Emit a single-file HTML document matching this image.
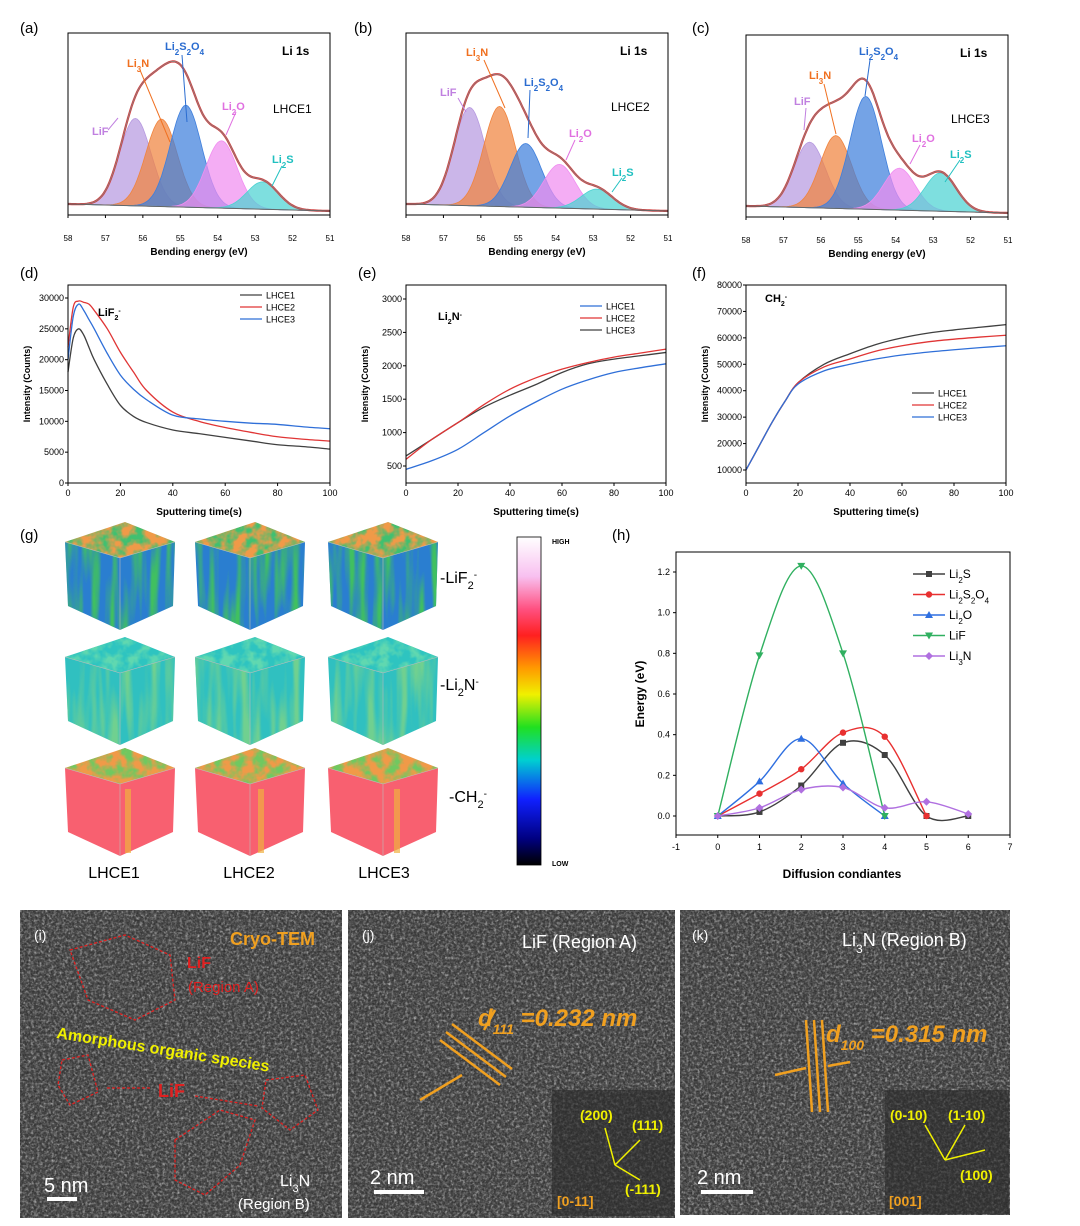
<!DOCTYPE html>
<html><head><meta charset="utf-8">
<style>
body{margin:0;background:#fff;}
svg{display:block;font-family:"Liberation Sans",sans-serif;}
</style></head>
<body>
<svg id="fig" width="1080" height="1226" viewBox="0 0 1080 1226" xmlns="http://www.w3.org/2000/svg">
<defs>
<filter id="noise" x="0" y="0" width="100%" height="100%">
<feTurbulence type="fractalNoise" baseFrequency="0.55" numOctaves="2" seed="3"/>
<feColorMatrix type="matrix" values="0 0 0 0 0  0 0 0 0 0  0 0 0 0 0  1.4 0 0 0 -0.3"/>
<feComposite in2="SourceGraphic" operator="in"/>
</filter>
<filter id="mottle" x="0" y="0" width="100%" height="100%">
<feTurbulence type="fractalNoise" baseFrequency="0.09" numOctaves="3" seed="5" result="t"/>
<feColorMatrix in="t" type="matrix" values="0 0 0 0 0  0 0 0 0 0  0 0 0 0 0  -3 0 0 0 1.9" result="m"/>
<feComposite in="SourceGraphic" in2="m" operator="in"/>
</filter>
<filter id="stripes" x="0" y="0" width="100%" height="100%">
<feTurbulence type="fractalNoise" baseFrequency="0.12 0.01" numOctaves="2" seed="2" result="t"/>
<feColorMatrix in="t" type="matrix" values="0 0 0 0 0  0 0 0 0 0  0 0 0 0 0  -3 0 0 0 1.8" result="m"/>
<feComposite in="SourceGraphic" in2="m" operator="in"/>
</filter>
<filter id="noise2" x="0" y="0" width="100%" height="100%">
<feTurbulence type="fractalNoise" baseFrequency="0.35" numOctaves="2" seed="8"/>
<feColorMatrix type="matrix" values="0 0 0 0 1  0 0 0 0 1  0 0 0 0 1  1.3 0 0 0 -0.55"/>
<feComposite in2="SourceGraphic" operator="in"/>
</filter>
<linearGradient id="cbar" x1="0" y1="0" x2="0" y2="1">
<stop offset="0" stop-color="#ffffff"/><stop offset="0.12" stop-color="#f8c0f0"/>
<stop offset="0.22" stop-color="#ff5080"/><stop offset="0.3" stop-color="#ff2020"/>
<stop offset="0.4" stop-color="#ff9a00"/><stop offset="0.48" stop-color="#f0f000"/>
<stop offset="0.58" stop-color="#20e020"/><stop offset="0.68" stop-color="#00d0d0"/>
<stop offset="0.8" stop-color="#1020ff"/><stop offset="0.92" stop-color="#000080"/>
<stop offset="1" stop-color="#000000"/>
</linearGradient>
</defs>
<g id="root"></g>
</svg>
<script>
// ---------- DATA ----------
const xpsSpecies = ["LiF","Li3N","Li2S2O4","Li2O","Li2S"];
const xpsCentersA = [56.2,55.5,54.85,53.9,52.8];
const xpsAmpsA = [0.48,0.48,0.56,0.37,0.15];
const xpsCentersB = [56.3,55.5,54.8,53.9,52.9];
const xpsAmpsB = [0.54,0.55,0.35,0.24,0.11];
const xpsCentersC = [56.3,55.6,54.8,53.9,52.8];
const xpsAmpsC = [0.36,0.40,0.62,0.23,0.21];
const xpsTicks = [58,57,56,55,54,53,52,51];

const timeD = [0,2,4,6,8,10,15,20,25,30,40,50,60,70,80,90,100];
const d_LHCE1 = [18000,23500,25000,24000,22000,20000,16000,12600,10800,9800,8600,8000,7400,6800,6200,5900,5500];
const d_LHCE2 = [22000,28500,29500,29300,29000,28000,25000,21200,18000,15000,11500,10000,9000,8200,7500,7100,6800];
const d_LHCE3 = [20000,27000,29000,28000,26500,25000,21000,17500,15200,13500,11000,10400,10000,9700,9500,9100,8800];
const dTicksY = [0,5000,10000,15000,20000,25000,30000];

const timeE = [0,10,20,30,40,50,60,70,80,90,100];
const e_LHCE1 = [650,900,1150,1380,1560,1720,1900,2030,2100,2150,2200];
const e_LHCE2 = [600,900,1150,1420,1650,1820,1950,2050,2130,2190,2250];
const e_LHCE3 = [450,580,750,1000,1250,1460,1650,1790,1900,1970,2030];
const eTicksY = [500,1000,1500,2000,2500,3000];

const timeF = [0,5,10,15,20,30,40,50,60,70,80,90,100];
const f_LHCE1 = [10000,19000,28000,36000,43000,50000,54000,57500,60000,61800,63000,64000,65000];
const f_LHCE2 = [10000,19000,28000,36000,43000,49000,52000,55000,57000,58500,59500,60300,61000];
const f_LHCE3 = [10000,19000,28000,36000,42500,47500,50000,52000,53500,54600,55500,56300,57000];
const fTicksY = [10000,20000,30000,40000,50000,60000,70000,80000];
const timeTicks = [0,20,40,60,80,100];

const hX = [0,1,2,3,4,5,6];
const h_Li2S = [0,0.02,0.15,0.36,0.30,0.00,0.00];
const h_Li2S2O4 = [0,0.11,0.23,0.41,0.39,0.00];
const h_Li2O = [0,0.17,0.38,0.16,0.00];
const h_LiF = [0,0.79,1.23,0.80,0.00];
const h_Li3N = [0,0.04,0.13,0.14,0.04,0.07,0.01];
const hTicksX = [-1,0,1,2,3,4,5,6,7];
const hTicksY = [0,0.2,0.4,0.6,0.8,1.0,1.2];

// ---------- HELPERS ----------
const NS="http://www.w3.org/2000/svg";
const root=document.getElementById('root');
function mk(tag,attrs,parent,txt){const e=document.createElementNS(NS,tag);for(const k in attrs)e.setAttribute(k,attrs[k]);if(txt!==undefined)e.innerHTML=txt;(parent||root).appendChild(e);return e;}
function smooth(pts){let d="M"+pts[0][0]+","+pts[0][1];for(let i=0;i<pts.length-1;i++){const p0=pts[i-1]||pts[i],p1=pts[i],p2=pts[i+1],p3=pts[i+2]||p2;const c1x=p1[0]+(p2[0]-p0[0])/6,c1y=p1[1]+(p2[1]-p0[1])/6,c2x=p2[0]-(p3[0]-p1[0])/6,c2y=p2[1]-(p3[1]-p1[1])/6;d+=` C${c1x},${c1y} ${c2x},${c2y} ${p2[0]},${p2[1]}`;}return d;}
function panelLabel(t,x,y){const e=mk('text',{x:x,y:y,'font-size':15},root,t);}

// ---------- XPS PANELS ----------
const xpsColors=["#b79ae0","#f0843e","#3f7fdc","#f08ef0","#4cd2d2"];
const xpsLabelCol=["#c080e0","#f07020","#2a6cd0","#e070e0","#20c0c0"];
const xpsLabels=["LiF","Li<tspan baseline-shift='sub' font-size='8'>3</tspan>N","Li<tspan baseline-shift='sub' font-size='8'>2</tspan>S<tspan baseline-shift='sub' font-size='8'>2</tspan>O<tspan baseline-shift='sub' font-size='8'>4</tspan>","Li<tspan baseline-shift='sub' font-size='8'>2</tspan>O","Li<tspan baseline-shift='sub' font-size='8'>2</tspan>S"];
function xpsPanel(px,py,centers,amps,name,labelPos){
  const W=262,H=182,g=mk('g',{});
  
  const sx=v=>px+(58-v)/7*W;
  const bl=v=>py+H-11+(58-v)/7*7;
  const sy=(v,a)=>bl(v)-a*H;
  const sigma=0.42,N=140;
  centers.forEach((c,i)=>{
    let pts=[];for(let k=0;k<=N;k++){const v=58-7*k/N;const a=amps[i]*Math.exp(-((v-c)**2)/(2*sigma*sigma));pts.push([sx(v),sy(v,a)]);}
    let d="M"+sx(58)+","+bl(58)+" L"+pts.map(p=>p[0].toFixed(1)+","+p[1].toFixed(1)).join(" L")+" L"+sx(51)+","+bl(51)+"Z";
    const p=mk('path',{d:d,fill:xpsColors[i],'fill-opacity':0.72,stroke:xpsColors[i],'stroke-width':0.8},g);
    
  });
  let env=[];for(let k=0;k<=N;k++){const v=58-7*k/N;let a=0;centers.forEach((c,i)=>a+=amps[i]*Math.exp(-((v-c)**2)/(2*sigma*sigma)));env.push([sx(v),sy(v,a)]);}
  const ep=mk('path',{d:"M"+env.map(p=>p[0].toFixed(1)+","+p[1].toFixed(1)).join(" L"),fill:"none",stroke:"#d04040",'stroke-width':2.2},g);
  
  const dp=mk('path',{d:"M"+env.map(p=>p[0].toFixed(1)+","+p[1].toFixed(1)).join(" L"),fill:"none",stroke:"#888",'stroke-width':0.7},g);
  
  const bp=mk('line',{x1:sx(58),y1:bl(58),x2:sx(51),y2:bl(51),stroke:"#666",'stroke-width':1},g);
  
  const fr=mk('rect',{x:px,y:py,width:W,height:H,fill:'none',stroke:'#000','stroke-width':1},g);
  
  xpsTicks.forEach(t=>{const tl=mk('line',{x1:sx(t),y1:py+H,x2:sx(t),y2:py+H+3,stroke:'#000'},g);
    const tx=mk('text',{x:sx(t),y:py+H+26,'font-size':8,'text-anchor':'middle'},g,t);});
  const xl=mk('text',{x:px+W/2,y:py+H+40,'font-size':10,'font-weight':'bold','text-anchor':'middle'},g,'Bending energy (eV)');
  
  const t1=mk('text',{x:px+W-48,y:py+22,'font-size':12,'font-weight':'bold'},g,'Li 1s');
  const t2=mk('text',{x:px+W-57,y:py+labelPos.sampleY,'font-size':12},g,name);
  labelPos.labels.forEach((L,i)=>{
    const tx=mk('text',{x:L[0],y:L[1],'font-size':11,'font-weight':'bold',fill:xpsLabelCol[i]},g,xpsLabels[i]);
    const ln=mk('line',{x1:L[2],y1:L[3],x2:L[4],y2:L[5],stroke:xpsLabelCol[i],'stroke-width':1},g);
  });
}
panelLabel('(a)',20,33);panelLabel('(b)',354,33);panelLabel('(c)',692,33);
xpsPanel(68,33,xpsCentersA,xpsAmpsA,'LHCE1',{sampleY:80,labels:[[92,135,108,130,118,118],[127,67,140,70,170,142],[165,50,182,55,187,122],[222,110,236,112,226,135],[272,163,282,166,272,186]]});
xpsPanel(406,33,xpsCentersB,xpsAmpsB,'LHCE2',{sampleY:78,labels:[[440,96,458,98,466,112],[466,56,484,60,505,108],[524,86,530,90,528,138],[569,137,575,140,566,160],[612,176,622,178,612,192]]});
xpsPanel(746,35,xpsCentersC,xpsAmpsC,'LHCE3',{sampleY:88,labels:[[794,105,806,108,804,130],[809,79,824,84,836,134],[859,55,870,60,865,96],[912,142,920,145,910,164],[950,158,960,160,945,182]]});

// ---------- LINE PANELS ----------
function linePanel(px,py,W,H,xs,series,colors,yTicks,ymin,ymax,name,title,legend){
  const g=mk('g',{});
  const sx=v=>px+v/100*W, sy=v=>py+H-(v-ymin)/(ymax-ymin)*H;
  series.forEach((s,i)=>{const p=mk('path',{d:smooth(xs.map((x,k)=>[sx(x),sy(s[k])])),fill:'none',stroke:colors[i],'stroke-width':1.3},g);
    });
  const fr=mk('rect',{x:px,y:py,width:W,height:H,fill:'none',stroke:'#000'},g);
  yTicks.forEach(t=>{const l=mk('line',{x1:px-3,y1:sy(t),x2:px,y2:sy(t),stroke:'#000'},g);
    const tx=mk('text',{x:px-4,y:sy(t)+3,'font-size':9,'text-anchor':'end'},g,t);});
  timeTicks.forEach(t=>{const l=mk('line',{x1:sx(t),y1:py+H,x2:sx(t),y2:py+H+3,stroke:'#000'},g);
    const tx=mk('text',{x:sx(t),y:py+H+13,'font-size':9,'text-anchor':'middle'},g,t);});
  const xl=mk('text',{x:px+W/2,y:py+H+32,'font-size':10,'font-weight':'bold','text-anchor':'middle'},g,'Sputtering time(s)');
  const yl=mk('text',{x:0,y:0,'font-size':9,'font-weight':'bold','text-anchor':'middle',transform:`translate(${px-38},${py+H/2}) rotate(-90)`},g,'Intensity (Counts)');
  const tt=mk('text',{x:title[1],y:title[2],'font-size':11,'font-weight':'bold'},g,title[0]);
  ['LHCE1','LHCE2','LHCE3'].forEach((n,i)=>{const y=legend[1]+i*12;
    const l=mk('line',{x1:legend[0],y1:y,x2:legend[0]+22,y2:y,stroke:legend[2][i],'stroke-width':1.3},g);
    const tx=mk('text',{x:legend[0]+26,y:y+3.5,'font-size':9},g,n);});
}
const cK="#404040",cR="#e03535",cB="#2f6fd8";
panelLabel('(d)',20,278);panelLabel('(e)',358,278);panelLabel('(f)',692,278);
linePanel(68,285,262,198,timeD,[d_LHCE1,d_LHCE2,d_LHCE3],[cK,cR,cB],dTicksY,0,30000*198/185,'chart-d',["LiF<tspan baseline-shift='sub' font-size='7'>2</tspan><tspan baseline-shift='super' font-size='7'>-</tspan>",98,316],[240,295,[cK,cR,cB]]);
linePanel(406,285,260,198,timeE,[e_LHCE1,e_LHCE2,e_LHCE3],[cK,cR,cB],eTicksY,500-17/0.0668,500+(466-285-17+(483-466))/0.0668,'chart-e',["Li<tspan baseline-shift='sub' font-size='7'>2</tspan>N<tspan baseline-shift='super' font-size='7'>-</tspan>",438,320],[580,306,[cB,cR,cK]]);
linePanel(746,285,260,198,timeF,[f_LHCE1,f_LHCE2,f_LHCE3],[cK,cR,cB],fTicksY,10000-13*70000/185,10000+185*70000/185,'chart-f',["CH<tspan baseline-shift='sub' font-size='7'>2</tspan><tspan baseline-shift='super' font-size='7'>-</tspan>",765,302],[912,393,[cK,cR,cB]]);

// ---------- (g) CUBES ----------
panelLabel('(g)',20,540);
const topCols=[["#f09a48","#40c070"],["#2ec4c0","#60d8b0"],["#f09a48","#70c860"]];
const sideCols=[["#2a7ed0","#40c060"],["#30c0c0","#70d090"],["#f86070","#f0b040"]];
[522,637,748].forEach((y0,r)=>{
  [120,250,383].forEach((cx,c)=>{
    const g=mk('g',{});
    const T=[cx+5,y0],L=[cx-55,y0+20],R=[cx+55,y0+20],F=[cx,y0+36],h=72;
    const pl=(p)=>p.map(q=>q.join(',')).join(' ');
    const LF=[L,F,[F[0],F[1]+h],[L[0]+3,L[1]+h-8]],RF=[F,R,[R[0]-2,R[1]+h-8],[F[0],F[1]+h]];
    const lf=mk('polygon',{points:pl(LF),fill:sideCols[r][0]},g);
    const rf=mk('polygon',{points:pl(RF),fill:sideCols[r][0]},g);
    if(r!=2){
      const ls=mk('polygon',{points:pl(LF),fill:sideCols[r][1],filter:'url(#stripes)'},g);
      const rs=mk('polygon',{points:pl(RF),fill:sideCols[r][1],filter:'url(#stripes)'},g);
    } else {
      const st=mk('rect',{x:F[0]+5+c*3,y:F[1]+5,width:6,height:h-8,fill:'#f0b040',opacity:0.7},g);
    }
    const tf=mk('polygon',{points:pl([T,R,F,L]),fill:topCols[r][0]},g);
    const tn=mk('polygon',{points:pl([T,R,F,L]),fill:topCols[r][1],filter:'url(#mottle)'},g);
    const ed=mk('polyline',{points:pl([[F[0],F[1]+h],F,L]),fill:'none',stroke:'#bbb','stroke-width':0.6},g);
    const ed2=mk('line',{x1:F[0],y1:F[1],x2:R[0],y2:R[1],stroke:'#bbb','stroke-width':0.6},g);
  });
});
[["-LiF<tspan baseline-shift='sub' font-size='11'>2</tspan><tspan baseline-shift='super' font-size='10'>-</tspan>",583],["-Li<tspan baseline-shift='sub' font-size='11'>2</tspan>N<tspan baseline-shift='super' font-size='10'>-</tspan>",690],["-CH<tspan baseline-shift='sub' font-size='11'>2</tspan><tspan baseline-shift='super' font-size='10'>-</tspan>",802]].forEach(a=>{
  const t=mk('text',{x:a[1]==802?449:440,y:a[1],'font-size':16},root,a[0]);});
['LHCE1','LHCE2','LHCE3'].forEach((n,i)=>{const t=mk('text',{x:[114,249,384][i],y:878,'font-size':16,'text-anchor':'middle'},root,n);});
const cb=mk('rect',{x:517,y:537,width:24,height:328,fill:'url(#cbar)',stroke:'#000','stroke-width':0.8});
const hi=mk('text',{x:552,y:544,'font-size':7,'font-weight':'bold'},root,'HIGH');
const lo=mk('text',{x:552,y:866,'font-size':7,'font-weight':'bold'},root,'LOW');

// ---------- (h) ----------
panelLabel('(h)',612,540);
(function(){
  const px=676,py=552,W=334,H=283;
  const sx=v=>px+(v+1)/8*W, sy=v=>816-v/1.2*244;
  const g=mk('g',{});
  const fr=mk('rect',{x:px,y:py,width:W,height:H,fill:'none',stroke:'#000'},g);
  const S=[["Li<tspan baseline-shift='sub' font-size='8'>2</tspan>S",h_Li2S,"#404040","sq"],["Li<tspan baseline-shift='sub' font-size='8'>2</tspan>S<tspan baseline-shift='sub' font-size='8'>2</tspan>O<tspan baseline-shift='sub' font-size='8'>4</tspan>",h_Li2S2O4,"#e83030","ci"],["Li<tspan baseline-shift='sub' font-size='8'>2</tspan>O",h_Li2O,"#2f6fe0","tu"],["LiF",h_LiF,"#30b060","td"],["Li<tspan baseline-shift='sub' font-size='8'>3</tspan>N",h_Li3N,"#b070e0","di"]];
  function marker(t,x,y,c,par){let e;
    if(t=="sq")e=mk('rect',{x:x-3,y:y-3,width:6,height:6,fill:c},par);
    else if(t=="ci")e=mk('circle',{cx:x,cy:y,r:3.2,fill:c},par);
    else if(t=="tu")e=mk('polygon',{points:`${x},${y-4} ${x-4},${y+3} ${x+4},${y+3}`,fill:c},par);
    else if(t=="td")e=mk('polygon',{points:`${x},${y+4} ${x-4},${y-3} ${x+4},${y-3}`,fill:c},par);
    else e=mk('polygon',{points:`${x},${y-4} ${x-4},${y} ${x},${y+4} ${x+4},${y}`,fill:c},par);
    }
  S.forEach((s,i)=>{const pts=s[1].map((v,k)=>[sx(hX[k]),sy(v)]);
    const p=mk('path',{d:smooth(pts),fill:'none',stroke:s[2],'stroke-width':1.4},g);
    pts.forEach(q=>marker(s[3],q[0],q[1],s[2],g));
    const y=574+i*20.5;
    const l=mk('line',{x1:913,y1:y,x2:945,y2:y,stroke:s[2],'stroke-width':1.4},g);
    marker(s[3],929,y,s[2],g);
    const t=mk('text',{x:949,y:y+4,'font-size':12},g,s[0]);});
  hTicksX.forEach(t=>{const l=mk('line',{x1:sx(t),y1:py+H,x2:sx(t),y2:py+H+3,stroke:'#000'},g);
    const tx=mk('text',{x:sx(t),y:py+H+15,'font-size':9,'text-anchor':'middle'},g,t);});
  hTicksY.forEach(t=>{const l=mk('line',{x1:px-3,y1:sy(t),x2:px,y2:sy(t),stroke:'#000'},g);
    const tx=mk('text',{x:px-6,y:sy(t)+3,'font-size':9,'text-anchor':'end'},g,t.toFixed(1));});
  const xl=mk('text',{x:842,y:878,'font-size':12,'font-weight':'bold','text-anchor':'middle'},g,'Diffusion condiantes');
  const yl=mk('text',{x:0,y:0,'font-size':12,'font-weight':'bold','text-anchor':'middle',transform:'translate(644,694) rotate(-90)'},g,'Energy (eV)');
})();

// ---------- TEM IMAGES ----------
function tem(x,y,w,h,name){const g=mk('g',{});
  const b=mk('rect',{x:x,y:y,width:w,height:h,fill:'#555'},g);
  const n=mk('rect',{x:x,y:y,width:w,height:h,fill:'#fff',filter:'url(#noise2)'},g);
  const n2=mk('rect',{x:x,y:y,width:w,height:h,fill:'#000',filter:'url(#noise)','opacity':0.55},g);
  return g;}
const gi=tem(20,910,322,308,'tem-image-i'),gj=tem(348,910,327,308,'tem-image-j'),gk=tem(680,910,330,305,'tem-image-k');
function T(par,x,y,s,c,t,extra){const e=mk('text',Object.assign({x:x,y:y,'font-size':s,fill:c,'font-weight':'bold'},extra||{}),par,t);return e;}
T(gi,34,940,14,'#fff','(i)',{'font-weight':'normal'});
T(gi,230,945,18,'#f0a020','Cryo-TEM');
T(gi,187,968,16,'#e02020','LiF');T(gi,188,992,15,'#e02020','(Region A)',{'font-weight':'normal'});
T(gi,56,1038,16,'#f0f000','Amorphous organic species',{transform:'rotate(9 56 1038)'});
T(gi,158,1097,18,'#e02020','LiF');
T(gi,280,1186,16,'#fff','Li<tspan baseline-shift="sub" font-size="11">3</tspan>N',{'font-weight':'normal'});
T(gi,238,1209,15,'#fff','(Region B)',{'font-weight':'normal'});
T(gi,44,1192,20,'#fff','5 nm',{'font-weight':'normal'});
const sb1=mk('rect',{x:47,y:1197,width:30,height:4,fill:'#fff'},gi);
[["M70,950 L125,935 L170,955 L175,1000 L135,1020 L88,1000 Z"],["M62,1060 L88,1055 L98,1092 L70,1105 L58,1085 Z"],["M266,1080 L305,1075 L318,1110 L290,1130 L262,1108 Z"],["M175,1140 L220,1110 L255,1120 L240,1165 L205,1195 L175,1180 Z"]].forEach(d=>{
  const p=mk('path',{d:d[0],fill:'none',stroke:'#e02020','stroke-width':1.3,'stroke-dasharray':'3,2'},gi);});
const ar1=mk('path',{d:"M150,1088 L105,1088 M195,1096 L258,1106",stroke:'#e02020','stroke-width':1.3,'stroke-dasharray':'3,2',fill:'none'},gi);
T(gj,362,940,14,'#fff','(j)',{'font-weight':'normal'});
T(gj,522,948,18,'#fff','LiF (Region A)',{'font-weight':'normal'});
T(gj,478,1026,24,'#f0a020','d<tspan baseline-shift="sub" font-size="14">111</tspan> =0.232 nm',{'font-style':'italic'});
T(gj,370,1184,20,'#fff','2 nm',{'font-weight':'normal'});
const sb2=mk('rect',{x:374,y:1190,width:50,height:4,fill:'#fff'},gj);
const ln2=mk('path',{d:"M440,1040 L500,1085 M446,1032 L506,1077 M452,1024 L512,1069 M420,1100 L462,1075 M495,1010 L484,1030",stroke:'#f0a020','stroke-width':2.5,fill:'none'},gj);
const fft1=mk('rect',{x:552,y:1090,width:122,height:126,fill:'#2a2a2a',opacity:0.6},gj);
T(gj,580,1120,14,'#f0f000','(200)');T(gj,632,1130,14,'#f0f000','(111)');T(gj,625,1194,14,'#f0f000','(-111)');T(gj,557,1206,14,'#f0a020','[0-11]');
const fl1=mk('path',{d:"M615,1165 L605,1128 M615,1165 L640,1140 M615,1165 L640,1180",stroke:'#f0f000','stroke-width':1.5,fill:'none'},gj);
T(gk,692,940,14,'#fff','(k)',{'font-weight':'normal'});
T(gk,842,946,18,'#fff','Li<tspan baseline-shift="sub" font-size="12">3</tspan>N (Region B)',{'font-weight':'normal'});
T(gk,826,1042,24,'#f0a020','d<tspan baseline-shift="sub" font-size="14">100</tspan> =0.315 nm',{'font-style':'italic'});
T(gk,697,1184,20,'#fff','2 nm',{'font-weight':'normal'});
const sb3=mk('rect',{x:701,y:1190,width:52,height:4,fill:'#fff'},gk);
const ln3=mk('path',{d:"M806,1020 L812,1112 M814,1020 L820,1112 M822,1020 L828,1112 M775,1075 L806,1068 M850,1062 L828,1066",stroke:'#f0a020','stroke-width':2.5,fill:'none'},gk);
const fft2=mk('rect',{x:885,y:1090,width:124,height:124,fill:'#2a2a2a',opacity:0.6},gk);
T(gk,890,1120,14,'#f0f000','(0-10)');T(gk,948,1120,14,'#f0f000','(1-10)');T(gk,960,1180,14,'#f0f000','(100)');T(gk,889,1206,14,'#f0a020','[001]');
const fl2=mk('path',{d:"M945,1160 L925,1125 M945,1160 L965,1125 M945,1160 L985,1150",stroke:'#f0f000','stroke-width':1.5,fill:'none'},gk);
</script>
</body></html>
